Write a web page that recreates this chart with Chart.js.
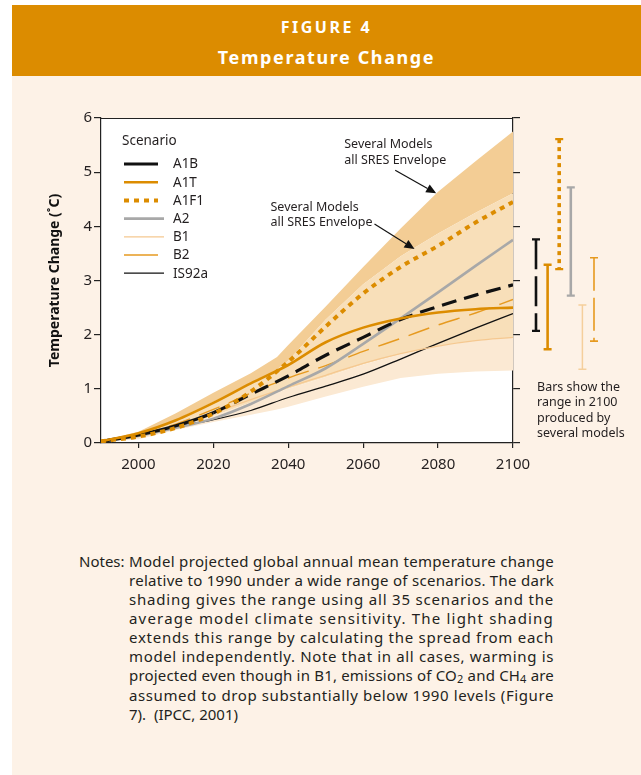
<!DOCTYPE html>
<html>
<head>
<meta charset="utf-8">
<script src="https://cdn.jsdelivr.net/npm/chart.js@4.4.1/dist/chart.umd.min.js"></script>
<style>
  html, body { margin: 0; padding: 0; background: #fff; }
  body { width: 641px; height: 775px; position: relative; overflow: hidden; font-family: "Noto Sans", sans-serif; color: #231f20; }
  #panel { position: absolute; left: 12px; top: 5px; width: 629px; height: 770px; background: #fdf2e7; }
  #head { position: absolute; left: 12px; top: 5px; width: 629px; height: 71px; background: #dc8c00; color: #fff; font-weight: bold; text-align: center; }
  #head .t1 { position: absolute; left: 0; right: 0; top: 11px; font-size: 16px; line-height: 22px; letter-spacing: 2.5px; }
  #head .t2 { position: absolute; left: 0; right: 0; top: 40px; font-size: 18px; line-height: 24px; letter-spacing: 1.6px; }
  #wrap { position: absolute; left: 0; top: 76px; width: 641px; height: 460px; }
  #notes { position: absolute; left: 79px; top: 552px; font-size: 15px; line-height: 19px; }
  #notes .lab { position: absolute; left: 0; top: 0; }
  #notes .txt { position: absolute; left: 50px; top: 0; width: 425px; }
  #notes .txt div { white-space: nowrap; }
  .sub { font-size: 11px; position: relative; top: 2px; }
</style>
</head>
<body>
<div id="panel"></div>
<div id="head">
  <div class="t1">FIGURE 4</div>
  <div class="t2">Temperature Change</div>
</div>
<div id="wrap"><canvas id="chart" width="641" height="460"></canvas></div>
<div id="notes">
  <div class="lab">Notes:</div>
  <div class="txt">
    <div><span>Model projected global annual mean temperature change</span></div>
    <div><span>relative to 1990 under a wide range of scenarios. The dark</span></div>
    <div><span>shading gives the range using all 35 scenarios and the</span></div>
    <div><span>average model climate sensitivity. The light shading</span></div>
    <div><span>extends this range by calculating the spread from each</span></div>
    <div><span>model independently. Note that in all cases, warming is</span></div>
    <div><span>projected even though in B1, emissions of CO<span class="sub">2</span> and CH<span class="sub">4</span> are</span></div>
    <div><span>assumed to drop substantially below 1990 levels (Figure</span></div>
    <div class="last"><span>7).&nbsp; (IPCC, 2001)</span></div>
  </div>
</div>
<script>
// values (temperature change in degrees C relative to 1990)
const years = [1990, 2000, 2010, 2020, 2030, 2040, 2050, 2060, 2070, 2080, 2090, 2100];
const a1b   = [0.03, 0.15, 0.32, 0.56, 0.90, 1.24, 1.62, 1.95, 2.28, 2.52, 2.73, 2.92];
const a1t   = [0.03, 0.18, 0.42, 0.74, 1.10, 1.44, 1.86, 2.13, 2.30, 2.41, 2.47, 2.50];
const a1f1  = [0.03, 0.12, 0.28, 0.54, 0.95, 1.50, 2.15, 2.76, 3.25, 3.64, 4.07, 4.45];
const a2    = [0.03, 0.13, 0.28, 0.45, 0.72, 1.05, 1.38, 1.83, 2.30, 2.78, 3.27, 3.75];
const b1    = [0.03, 0.15, 0.32, 0.55, 0.80, 1.03, 1.25, 1.47, 1.65, 1.79, 1.89, 1.95];
const b2    = [0.03, 0.15, 0.35, 0.62, 0.92, 1.20, 1.43, 1.69, 1.93, 2.18, 2.40, 2.65];
const is92a = [0.03, 0.16, 0.30, 0.43, 0.60, 0.84, 1.05, 1.27, 1.55, 1.84, 2.12, 2.39];

// shaded envelopes
const envYears = [1990, 2000, 2010, 2020, 2030, 2037, 2040, 2050, 2060, 2070, 2080, 2090, 2100];
const envLower = [0.02, 0.07, 0.24, 0.39, 0.52, 0.62, 0.67, 0.86, 1.04, 1.20, 1.28, 1.32, 1.34];
const envEdge  = [0.03, 0.13, 0.30, 0.50, 0.75, 0.93, 1.00, 1.22, 1.45, 1.64, 1.79, 1.89, 1.95];
const envMid   = [0.03, 0.17, 0.43, 0.76, 1.08, 1.36, 1.52, 2.28, 2.93, 3.45, 3.87, 4.25, 4.61];
const envUpper = [0.04, 0.21, 0.55, 0.93, 1.29, 1.59, 1.81, 2.52, 3.25, 3.96, 4.64, 5.20, 5.75];

// ranges in 2100 from several models
const rangeNames = ['A1B', 'A1T', 'A1F1', 'A2', 'B1', 'B2'];
const rangeLow   = [2.07, 1.73, 3.21, 2.72, 1.36, 1.88];
const rangeHigh  = [3.76, 3.29, 5.61, 4.72, 2.55, 3.42];

const xTicks = [2000, 2020, 2040, 2060, 2080, 2100];
const yTicks = [0, 1, 2, 3, 4, 5, 6];

const ORANGE = '#dc8c00';
const styles = {
  A1B:   { color: '#111111', width: 3.2, dash: [] },
  A1T:   { color: ORANGE, width: 2.6, dash: [] },
  A1F1:  { color: ORANGE, width: 4, dash: [5, 5] },
  A2:    { color: '#a8a8a8', width: 2.6, dash: [] },
  B1:    { color: '#f5c890', width: 1.3, dash: [] },
  B2:    { color: '#e69a20', width: 1.4, dash: [] },
  IS92a: { color: '#111111', width: 1.3, dash: [] }
};
const legendOrder = ['A1B', 'A1T', 'A1F1', 'A2', 'B1', 'B2', 'IS92a'];

// spread each notes line to the full column width, like the printed text
document.querySelectorAll('#notes .txt div').forEach(div => {
  if (div.classList.contains('last')) return;
  const span = div.firstElementChild;
  const w = span.getBoundingClientRect().width;
  const n = div.textContent.length;
  div.style.letterSpacing = ((425 - w) / n) + 'px';
});

function pts(xs, ys) {
  return xs.map((x, i) => ({ x: x, y: ys[i] }));
}

function lineSet(name, vals, extra) {
  const s = styles[name];
  return Object.assign({
    label: name,
    data: pts(years, vals),
    borderColor: s.color,
    borderWidth: s.width,
    borderDash: s.dash,
    pointRadius: 0,
    fill: false,
    tension: 0.35,
    cubicInterpolationMode: 'monotone'
  }, extra || {});
}

function envSet(name, vals, fill, color) {
  return {
    label: name,
    data: pts(envYears, vals),
    borderColor: 'rgba(0,0,0,0)',
    borderWidth: 0,
    pointRadius: 0,
    backgroundColor: color,
    fill: fill,
    tension: 0
  };
}

function arrow(ctx, x1, y1, x2, y2) {
  const ang = Math.atan2(y2 - y1, x2 - x1);
  const L = 10, W = 4.5;
  const bx = x2 - L * Math.cos(ang), by = y2 - L * Math.sin(ang);
  ctx.beginPath();
  ctx.moveTo(x1, y1);
  ctx.lineTo(bx, by);
  ctx.stroke();
  ctx.beginPath();
  ctx.moveTo(x2, y2);
  ctx.lineTo(bx + W * Math.sin(ang), by - W * Math.cos(ang));
  ctx.lineTo(bx - W * Math.sin(ang), by + W * Math.cos(ang));
  ctx.closePath();
  ctx.fill();
}

const decor = {
  id: 'decor',
  beforeDraw(chart) {
    const { ctx, chartArea: a } = chart;
    ctx.save();
    ctx.fillStyle = '#ffffff';
    ctx.fillRect(a.left, a.top, a.right - a.left, a.bottom - a.top);
    ctx.restore();
  },
  afterDraw(chart) {
    const { ctx, chartArea: a } = chart;
    const xs = chart.scales.x, ys = chart.scales.y;
    ctx.save();

    // top frame line
    ctx.strokeStyle = '#222';
    ctx.lineWidth = 1.2;
    ctx.beginPath();
    ctx.moveTo(a.left, a.top + 0.5);
    ctx.lineTo(a.right, a.top + 0.5);
    ctx.stroke();

    // legend
    ctx.fillStyle = '#231f20';
    ctx.font = '13.5px "Noto Sans", sans-serif';
    ctx.textBaseline = 'middle';
    ctx.textAlign = 'left';
    ctx.fillText('Scenario', a.left + 21, a.top + 23);
    legendOrder.forEach((name, i) => {
      const s = styles[name];
      const y = a.top + 46 + i * 18.2;
      const long = (name === 'A2' || name === 'B1' || name === 'IS92a');
      ctx.strokeStyle = s.color;
      ctx.lineWidth = s.width;
      ctx.setLineDash(name === 'A1F1' ? [5, 5] : []);
      ctx.beginPath();
      ctx.moveTo(a.left + 23, y);
      ctx.lineTo(a.left + (long ? 63 : 57), y);
      ctx.stroke();
      ctx.setLineDash([]);
      ctx.fillStyle = '#231f20';
      ctx.fillText(name, a.left + 72, y + 0.5);
    });

    // annotations with arrows
    ctx.font = '12.5px "Noto Sans", sans-serif';
    ctx.strokeStyle = '#111';
    ctx.fillStyle = '#111';
    ctx.lineWidth = 1.2;
    const t1x = xs.getPixelForValue(2079.5), t1y = ys.getPixelForValue(4.61);
    const t2x = xs.getPixelForValue(2073.7), t2y = ys.getPixelForValue(3.58);
    arrow(ctx, t1x - 41, t1y - 23, t1x, t1y);
    arrow(ctx, t2x - 40, t2y - 25, t2x, t2y);
    ctx.fillStyle = '#231f20';
    ctx.fillText('Several Models', t1x - 92, t1y - 49);
    ctx.fillText('all SRES Envelope', t1x - 92, t1y - 33);
    ctx.fillText('Several Models', t2x - 144, t2y - 42);
    ctx.fillText('all SRES Envelope', t2x - 144, t2y - 27);

    // range bars in 2100
    const barStyle = {
      A1B:  { color: '#111111', width: 2.6, dash: [30, 7] },
      A1T:  { color: ORANGE, width: 2.6, dash: [] },
      A1F1: { color: ORANGE, width: 3.6, dash: [4, 4] },
      A2:   { color: '#a8a8a8', width: 2.6, dash: [] },
      B1:   { color: '#f5cf9c', width: 1.5, dash: [] },
      B2:   { color: '#e69a20', width: 1.6, dash: [33, 7] }
    };
    rangeNames.forEach((name, i) => {
      const s = barStyle[name];
      const x = a.right + 23 + i * 11.6;
      const yTop = ys.getPixelForValue(rangeHigh[i]);
      const yBot = ys.getPixelForValue(rangeLow[i]);
      ctx.strokeStyle = s.color;
      ctx.lineWidth = s.width;
      ctx.setLineDash(s.dash);
      ctx.beginPath();
      ctx.moveTo(x, yTop);
      ctx.lineTo(x, yBot);
      ctx.stroke();
      ctx.setLineDash([]);
      ctx.lineWidth = Math.min(s.width, 2.4);
      ctx.beginPath();
      ctx.moveTo(x - 4, yTop); ctx.lineTo(x + 4, yTop);
      ctx.moveTo(x - 4, yBot); ctx.lineTo(x + 4, yBot);
      ctx.stroke();
    });

    ctx.fillStyle = '#231f20';
    ctx.font = '12.5px "Noto Sans", sans-serif';
    const note = ['Bars show the', 'range in 2100', 'produced by', 'several models'];
    note.forEach((t, i) => ctx.fillText(t, a.right + 24, a.bottom - 56 + i * 15.6));

    ctx.restore();
  }
};

Chart.defaults.font.family = '"Noto Sans", sans-serif';
Chart.defaults.color = '#231f20';

new Chart(document.getElementById('chart'), {
  type: 'line',
  data: {
    datasets: [
      lineSet('A1F1', a1f1),
      lineSet('A1T', a1t),
      lineSet('A1B', a1b, { segment: { borderDash: c => c.p0.parsed.x >= 2020 ? [15, 8] : undefined } }),
      lineSet('A2', a2),
      lineSet('B2', b2, { segment: { borderDash: c => c.p0.parsed.x >= 2000 ? [22, 10] : undefined } }),
      lineSet('B1', b1),
      lineSet('IS92a', is92a),
      envSet('lower', envLower, false, 'rgba(0,0,0,0)'),
      envSet('edge', envEdge, '-1', '#fbe9d3'),
      envSet('mid', envMid, '-1', '#f8dfb9'),
      envSet('upper', envUpper, '-1', '#f3cd95')
    ]
  },
  options: {
    responsive: false,
    devicePixelRatio: 1,
    animation: false,
    layout: { padding: { top: 42, left: 0, right: 0, bottom: 0 } },
    plugins: {
      legend: { display: false },
      tooltip: { enabled: false },
      filler: { drawTime: 'beforeDatasetsDraw' }
    },
    scales: {
      x: {
        type: 'linear',
        min: 1990,
        max: 2100,
        afterBuildTicks: s => { s.ticks = xTicks.map(v => ({ value: v })); },
        afterFit: s => { s.height = 93; },
        ticks: { font: { size: 15 }, color: '#231f20', padding: 8, callback: v => String(v) },
        grid: { drawOnChartArea: false, drawTicks: true, tickLength: 5, color: '#222', tickColor: '#222', lineWidth: 1.2 },
        border: { color: '#222', width: 1.2 }
      },
      y: {
        min: 0,
        max: 6,
        afterBuildTicks: s => { s.ticks = yTicks.map(v => ({ value: v })); },
        afterFit: s => { s.width = 101; },
        ticks: { font: { size: 15 }, color: '#231f20', padding: 2 },
        grid: { drawOnChartArea: false, drawTicks: true, tickLength: 7, color: '#222', tickColor: '#222', lineWidth: 1.2 },
        border: { color: '#222', width: 1.2 },
        title: {
          display: true,
          text: 'Temperature Change (˚C)',
          font: { size: 14, weight: 'bold' },
          color: '#111',
          padding: { top: 47, bottom: 0 }
        }
      },
      y2: {
        position: 'right',
        min: 0,
        max: 6,
        afterBuildTicks: s => { s.ticks = yTicks.map(v => ({ value: v })); },
        afterFit: s => { s.width = 128; },
        ticks: { display: false },
        grid: { drawOnChartArea: false, drawTicks: true, tickLength: 7, color: '#222', tickColor: '#222', lineWidth: 1.2 },
        border: { color: '#222', width: 1.2 }
      }
    }
  },
  plugins: [decor]
});
</script>
</body>
</html>
